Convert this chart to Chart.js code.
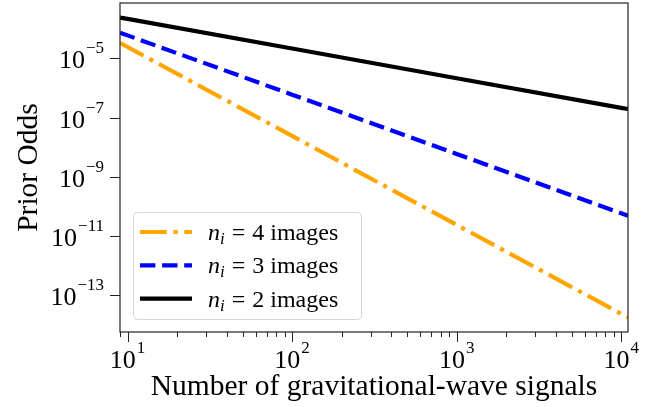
<!DOCTYPE html>
<html>
<head>
<meta charset="utf-8">
<script src="https://cdn.jsdelivr.net/npm/chart.js@4.4.1/dist/chart.umd.min.js"></script>
<style>
  html, body { margin: 0; padding: 0; background: #fff; }
  #wrap { width: 663px; height: 407px; }
</style>
</head>
<body>
<div id="wrap"><canvas id="oddsChart" width="663" height="407"></canvas></div>
<script>
// DATA
var signals = [9, 10, 100, 1000, 10000, 11000];
var odds4 = [3.28e-5, 2.39e-5, 2.39e-8, 2.39e-11, 2.39e-14, 1.80e-14];
var odds3 = [7.28e-5, 5.9e-5, 5.9e-7, 5.9e-9, 5.9e-11, 4.88e-11];
var odds2 = [2.36e-4, 2.12e-4, 2.12e-5, 2.12e-6, 2.12e-7, 1.93e-7];
var imageCounts = ["4", "3", "2"];
var xTickExps = [1, 2, 3, 4];
var yTickExps = [-5, -7, -9, -11, -13];
var xMin = 9, xMax = 11000;
var yMin = 5.8e-15, yMax = 7.3e-4;

//FONTS
var serif = "'Liberation Serif', 'Times New Roman', serif";

function toPoints(ys) {
  return signals.map(function (x, i) { return { x: x, y: ys[i] }; });
}

// draw "10^exp" with a raised exponent
function drawPow(ctx, x, y, exp, align) {
  var base = "10";
  var sup = String(exp).replace("-", "\u2212");
  ctx.font = "26px " + serif;
  var wb = ctx.measureText(base).width;
  ctx.font = "17px " + serif;
  var we = ctx.measureText(sup).width;
  var start = align == "right" ? x - wb - we - 1 : x - (wb + we + 1) / 2;
  ctx.textAlign = "left";
  ctx.textBaseline = "alphabetic";
  ctx.font = "26px " + serif;
  ctx.fillText(base, start, y);
  ctx.font = "17px " + serif;
  ctx.fillText(sup, start + wb + 1, y - 15);
}

var decor = {
  id: "decor",
  afterDraw: function (chart) {
    var ctx = chart.ctx;
    var a = chart.chartArea;
    var xs = chart.scales.x;
    var ys = chart.scales.y;
    ctx.save();
    ctx.fillStyle = "#000";
    ctx.strokeStyle = "#222";

    // frame
    ctx.lineWidth = 1.2;
    ctx.strokeRect(a.left, a.top, a.right - a.left, a.bottom - a.top);

    // x ticks (major + minor)
    ctx.lineWidth = 1;
    for (var k = 0; k <= 4; k++) {
      for (var m = 1; m <= 9; m++) {
        var v = m * Math.pow(10, k);
        if (v < xMin || v > xMax) continue;
        var px = Math.round(xs.getPixelForValue(v)) + 0.5;
        ctx.beginPath();
        ctx.moveTo(px, a.bottom);
        ctx.lineTo(px, a.bottom + (m == 1 ? 10 : 5));
        ctx.stroke();
      }
    }
    xTickExps.forEach(function (e) {
      var px = xs.getPixelForValue(Math.pow(10, e));
      drawPow(ctx, px, a.bottom + 36, e, "center");
    });

    // y ticks
    yTickExps.forEach(function (e) {
      var py = Math.round(ys.getPixelForValue(Math.pow(10, e))) + 0.5;
      ctx.beginPath();
      ctx.moveTo(a.left - 10, py);
      ctx.lineTo(a.left, py);
      ctx.stroke();
      drawPow(ctx, a.left - 16, py + 9, e, "right");
    });

    // axis titles
    ctx.font = "29.5px " + serif;
    ctx.textAlign = "center";
    ctx.textBaseline = "alphabetic";
    ctx.fillText("Number of gravitational-wave signals", (a.left + a.right) / 2, 395);
    ctx.save();
    ctx.translate(37, (a.top + a.bottom) / 2);
    ctx.rotate(-Math.PI / 2);
    ctx.fillText("Prior Odds", 0, 0);
    ctx.restore();

    // legend
    var bx = 133, by = 212, bw = 228, bh = 107;
    ctx.beginPath();
    ctx.roundRect(bx + 0.5, by + 0.5, bw, bh, 4);
    ctx.fillStyle = "rgba(255,255,255,0.8)";
    ctx.fill();
    ctx.strokeStyle = "#d6d6d6";
    ctx.lineWidth = 1;
    ctx.stroke();
    chart.data.datasets.forEach(function (ds, i) {
      var ly = by + 20 + i * 33.3;
      ctx.beginPath();
      ctx.strokeStyle = ds.borderColor;
      ctx.lineWidth = ds.borderWidth;
      ctx.setLineDash(ds.borderDash || []);
      ctx.moveTo(140, ly);
      ctx.lineTo(192, ly);
      ctx.stroke();
      ctx.setLineDash([]);
      ctx.fillStyle = "#000";
      ctx.textAlign = "left";
      ctx.textBaseline = "alphabetic";
      var tx = 208, ty = ly + 8;
      ctx.font = "italic 24px " + serif;
      ctx.fillText("n", tx, ty);
      tx += ctx.measureText("n").width;
      ctx.font = "italic 17px " + serif;
      ctx.fillText("i", tx, ty + 4);
      tx += ctx.measureText("i").width + 7;
      ctx.font = "24px " + serif;
      ctx.fillText("=", tx, ty);
      tx += ctx.measureText("=").width + 7;
      ctx.fillText(imageCounts[i] + " images", tx, ty);
    });
    ctx.restore();
  }
};

var config = {
  type: "line",
  data: {
    datasets: [{
      label: "n_i = 4 images",
      data: toPoints(odds4),
      borderColor: "#FFA500",
      borderWidth: 4.2,
      borderDash: [26.7, 6.7, 4.2, 6.7],
      pointRadius: 0,
      fill: false
    }, {
      label: "n_i = 3 images",
      data: toPoints(odds3),
      borderColor: "#0000FF",
      borderWidth: 4.2,
      borderDash: [15.4, 6.7],
      pointRadius: 0,
      fill: false
    }, {
      label: "n_i = 2 images",
      data: toPoints(odds2),
      borderColor: "#000000",
      borderWidth: 4.2,
      pointRadius: 0,
      fill: false
    }]
  },
  options: {
    responsive: false,
    animation: false,
    devicePixelRatio: 1,
    layout: { padding: { top: 3, right: 35, left: 0, bottom: 0 } },
    plugins: { legend: { display: false }, tooltip: { enabled: false } },
    scales: {
      x: {
        type: "logarithmic",
        min: xMin,
        max: xMax,
        ticks: { display: false },
        grid: { display: false },
        border: { display: false },
        afterFit: function (scale) { scale.height = 75; }
      },
      y: {
        type: "logarithmic",
        min: yMin,
        max: yMax,
        ticks: { display: false },
        grid: { display: false },
        border: { display: false },
        afterFit: function (scale) { scale.width = 120; }
      }
    }
  },
  plugins: [decor]
};

var oddsChart = new Chart(document.getElementById("oddsChart"), config);
</script>
</body>
</html>
